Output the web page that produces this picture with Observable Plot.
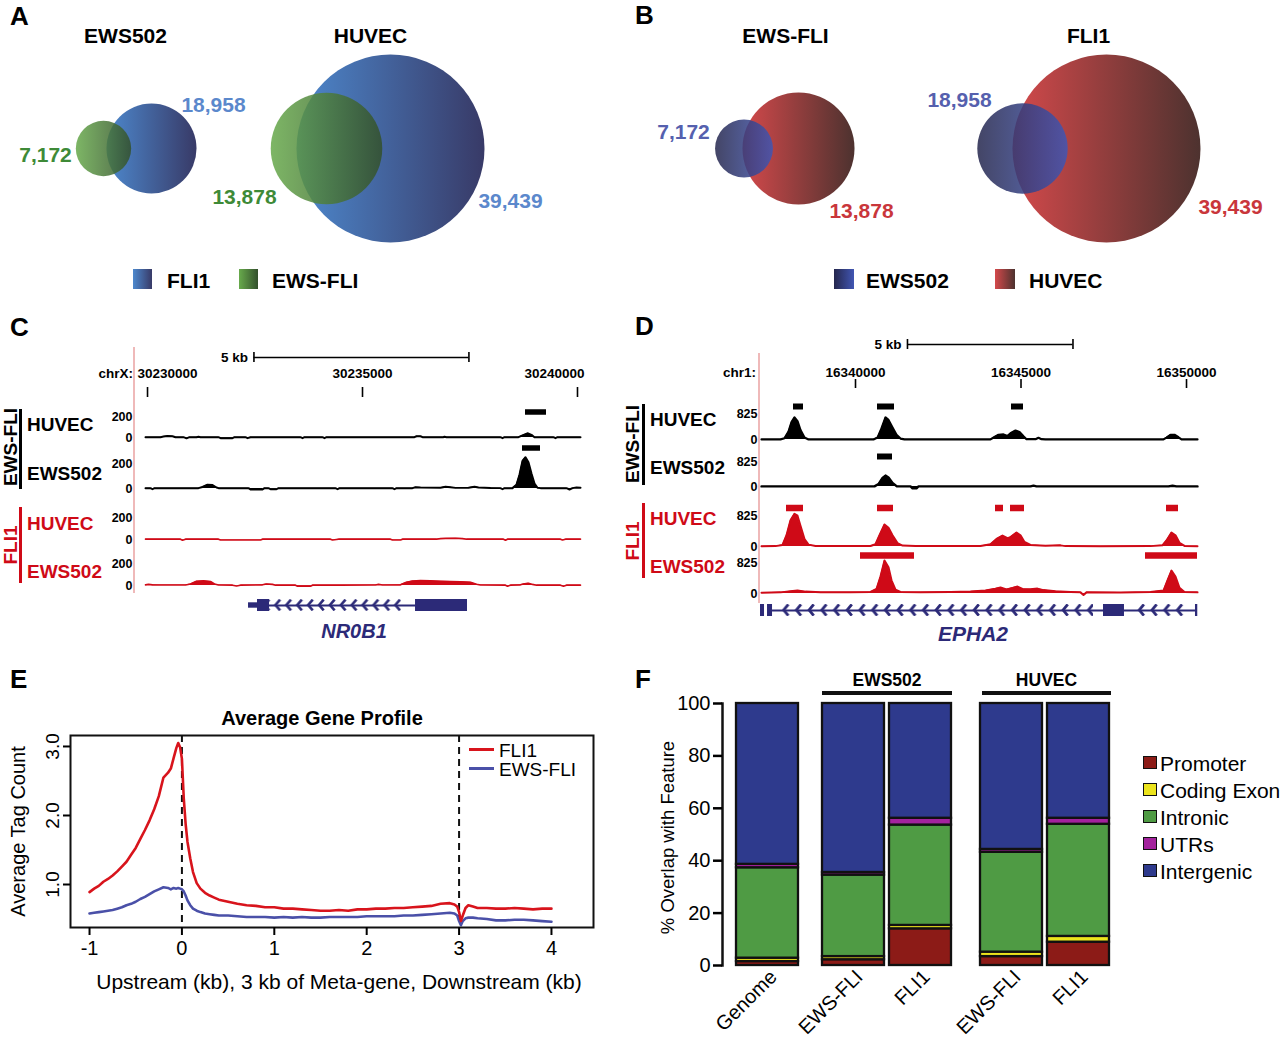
<!DOCTYPE html>
<html>
<head>
<meta charset="utf-8">
<script src="https://cdn.jsdelivr.net/npm/d3@7"></script>
<script src="https://cdn.jsdelivr.net/npm/@observablehq/plot@0.6"></script>
<style>
  html, body { margin: 0; padding: 0; background: #fff; }
  #fig { position: relative; width: 1280px; height: 1037px; overflow: hidden; background: #fff;
         font-family: "Liberation Sans", Arial, Helvetica, sans-serif; color: #000; }
  #fig .t { position: absolute; white-space: nowrap; line-height: 1; }
  #fig .box { position: absolute; box-sizing: border-box; }
</style>
</head>
<body>
<div id="fig">
  <svg width="0" height="0" style="position:absolute">
    <defs>
      <linearGradient id="gFli1" x1="0" x2="1" y1="0" y2="0">
        <stop offset="0" stop-color="#4d88cd"/><stop offset="1" stop-color="#383a67"/>
      </linearGradient>
      <linearGradient id="gEwsFli" x1="0" x2="1" y1="0" y2="0">
        <stop offset="0" stop-color="#68aa4c"/><stop offset="1" stop-color="#33502c"/>
      </linearGradient>
      <linearGradient id="gEws502" x1="0" x2="1" y1="0" y2="0">
        <stop offset="0" stop-color="#25274d"/><stop offset="1" stop-color="#4156b3"/>
      </linearGradient>
      <linearGradient id="gHuvec" x1="0" x2="1" y1="0" y2="0">
        <stop offset="0" stop-color="#d4494b"/><stop offset="1" stop-color="#4d322f"/>
      </linearGradient>
      <pattern id="chevNR0B1" patternUnits="userSpaceOnUse" width="10.9" height="30">
        <path d="M7.6,9.6 L3,15 L7.6,20.4" fill="none" stroke="#2c2a78" stroke-width="2.6"/>
      </pattern>
      <pattern id="chevEPHA2" patternUnits="userSpaceOnUse" width="12.7" height="30">
        <path d="M8.6,9.4 L4,15 L8.6,20.6" fill="none" stroke="#2c2a78" stroke-width="2.8"/>
      </pattern>
    </defs>
  </svg>
</div>
<script>
// ===================== data =====================

// A/B: number of ChIP-seq peaks per factor and cell line
const cellLines = ["EWS502", "HUVEC"];
const fli1PeakCounts = [18958, 39439];
const ewsFliPeakCounts = [7172, 13878];

// C: NR0B1 locus, chrX (signal as [position, tag density])
const nr0b1Window = [30229953, 30240070];
const nr0b1Ticks = [30230000, 30235000, 30240000];
const nr0b1ScaleBar = [30232475, 30237475];
const nr0b1EwsFliHuvec = [[30229953,3],[30230302,3],[30230372,10],[30230465,15],[30230581,12],[30230651,3],[30230837,3],[30230907,-8],[30230977,3],[30231140,3],[30231186,8],[30231233,3],[30231651,3],[30231698,-6],[30231977,-6],[30232023,3],[30232279,3],[30232326,-6],[30232395,3],[30233558,3],[30233605,-6],[30233651,3],[30234070,3],[30234116,-6],[30234163,3],[30236209,3],[30236256,12],[30236349,12],[30236395,3],[30236884,3],[30236907,8],[30236954,3],[30238209,3],[30238256,-6],[30238302,3],[30238628,3],[30238721,20],[30238837,40],[30238930,25],[30239000,3],[30239442,3],[30239488,-6],[30239535,3],[30240070,3]];
const nr0b1EwsFliEws502 = [[30229953,3],[30230070,3],[30230116,-6],[30230163,3],[30231186,3],[30231279,12],[30231395,30],[30231512,28],[30231605,8],[30231651,3],[30232349,3],[30232395,-8],[30232674,-8],[30232721,3],[30232814,3],[30232860,-6],[30233000,-6],[30233047,3],[30234372,3],[30234419,-6],[30234465,3],[30235698,3],[30235744,-6],[30235791,3],[30236163,3],[30236233,10],[30236349,8],[30236814,6],[30236930,14],[30237047,10],[30237163,5],[30237465,6],[30237605,14],[30237698,8],[30237977,4],[30238209,3],[30238256,-6],[30238302,3],[30238488,3],[30238581,30],[30238651,110],[30238721,220],[30238791,250],[30238860,210],[30238930,120],[30239000,40],[30239070,6],[30239140,3],[30239744,3],[30239814,-8],[30239884,3],[30239977,8],[30240070,6]];
const nr0b1Fli1Huvec = [[30229953,3],[30230767,3],[30230814,-6],[30230884,3],[30231651,3],[30231698,-5],[30232628,-5],[30232674,3],[30234256,3],[30234302,-5],[30234442,3],[30235651,3],[30235698,-5],[30235884,-5],[30235930,3],[30236721,3],[30236814,8],[30236930,10],[30237163,12],[30237326,8],[30237419,3],[30238279,3],[30238326,-6],[30238372,3],[30239605,3],[30239651,-5],[30239721,3],[30240070,3]];
const nr0b1Fli1Ews502 = [[30229953,6],[30230023,10],[30230116,6],[30230302,4],[30230884,4],[30231000,14],[30231140,38],[30231302,42],[30231465,36],[30231558,14],[30231651,4],[30231977,3],[30232070,-4],[30232163,3],[30232674,6],[30232767,14],[30232907,10],[30232977,3],[30233442,3],[30233488,-6],[30233791,-6],[30233837,3],[30234488,3],[30235302,4],[30235372,10],[30235465,4],[30235884,6],[30236023,30],[30236163,40],[30236349,44],[30236581,42],[30236814,38],[30237047,36],[30237279,34],[30237512,30],[30237651,12],[30237744,4],[30238326,3],[30238372,-6],[30238442,3],[30238674,6],[30238767,16],[30238860,20],[30238953,10],[30239047,3],[30239605,3],[30239674,-6],[30239744,3],[30240070,3]];
const nr0b1PeaksEwsFliHuvec = [[30238791, 30239279]];
const nr0b1PeaksEwsFliEws502 = [[30238721, 30239140]];
const nr0b1Exons = [[30232558, 30232837], [30236233, 30237442]];
const nr0b1Utrs = [[30232349, 30232558]];
const nr0b1Introns = [[30232837, 30236233]];

// D: EPHA2 locus, chr1
const epha2Window = [16337160, 16350332];
const epha2Ticks = [16340000, 16345000, 16350000];
const epha2ScaleBar = [16341570, 16346570];
const epha2EwsFliHuvec = [[16337160,3],[16337734,3],[16337855,40],[16337976,250],[16338067,550],[16338157,700],[16338248,580],[16338338,300],[16338459,60],[16338580,3],[16340544,3],[16340665,60],[16340785,350],[16340906,700],[16340997,620],[16341118,380],[16341239,150],[16341359,30],[16341480,3],[16344078,3],[16344199,80],[16344320,150],[16344471,160],[16344592,110],[16344683,200],[16344834,285],[16344954,240],[16345075,100],[16345166,10],[16345438,10],[16345528,55],[16345619,10],[16345740,3],[16349305,3],[16349395,60],[16349516,150],[16349637,150],[16349758,70],[16349849,3],[16350332,3]];
const epha2EwsFliEws502 = [[16337160,3],[16340574,3],[16340695,80],[16340816,280],[16340906,360],[16340997,300],[16341118,120],[16341239,10],[16341359,3],[16341662,3],[16341722,-60],[16341843,-60],[16341903,3],[16345287,3],[16345377,30],[16345468,3],[16349456,3],[16349577,25],[16349697,3],[16350332,3]];
const epha2Fli1Huvec = [[16337160,8],[16337583,10],[16337795,40],[16337916,300],[16338036,700],[16338157,870],[16338248,820],[16338338,550],[16338459,200],[16338580,50],[16338792,15],[16339245,10],[16339698,12],[16340453,12],[16340604,60],[16340725,300],[16340876,585],[16340997,500],[16341118,300],[16341269,90],[16341420,25],[16341813,12],[16342870,10],[16343776,15],[16344078,60],[16344260,200],[16344441,290],[16344592,220],[16344683,250],[16344864,370],[16344985,300],[16345105,120],[16345287,40],[16345740,20],[16346193,30],[16346344,10],[16347401,8],[16348912,10],[16349274,30],[16349395,160],[16349546,370],[16349667,300],[16349788,100],[16349939,15],[16350332,8]];
const epha2Fli1Ews502 = [[16337160,20],[16337734,30],[16338036,60],[16338248,80],[16338489,50],[16338943,35],[16339849,30],[16340453,40],[16340634,120],[16340755,450],[16340876,880],[16340997,700],[16341088,350],[16341208,100],[16341359,40],[16341964,30],[16342870,40],[16343474,50],[16343927,80],[16344229,130],[16344380,160],[16344562,110],[16344743,150],[16344894,185],[16345045,120],[16345287,110],[16345498,130],[16345679,90],[16346042,60],[16346495,40],[16346797,30],[16346888,-40],[16346979,30],[16348006,25],[16348912,40],[16349305,80],[16349426,350],[16349546,610],[16349667,450],[16349788,150],[16349939,40],[16350332,30]];
const epha2PeaksEwsFliHuvec = [[16338127,16338429],[16340665,16341178],[16344713,16345075]];
const epha2PeaksEwsFliEws502 = [[16340665,16341118]];
const epha2PeaksFli1Huvec = [[16337916,16338429],[16340665,16341148],[16344229,16344471],[16344683,16345105],[16349395,16349758]];
const epha2PeaksFli1Ews502 = [[16340151,16341782],[16348761,16350332]];
const epha2Exons = [[16337130,16337251],[16337342,16337493],[16347492,16348126],[16350271,16350340]];
const epha2Introns = [[16337493,16347492],[16348126,16350271]];

// E: average tag count across the meta-gene
const profileKb = [-1,-0.95,-0.9,-0.85,-0.8,-0.75,-0.7,-0.65,-0.6,-0.55,-0.5,-0.45,-0.4,-0.35,-0.3,-0.25,-0.2,-0.15,-0.12,-0.09,-0.06,-0.04,-0.02,0,0.02,0.04,0.06,0.09,0.12,0.16,0.2,0.25,0.3,0.35,0.4,0.5,0.6,0.7,0.8,0.9,1.0,1.1,1.2,1.3,1.4,1.5,1.6,1.7,1.8,1.9,2.0,2.1,2.2,2.3,2.4,2.5,2.6,2.7,2.8,2.9,2.95,2.98,3.0,3.02,3.04,3.07,3.1,3.15,3.2,3.3,3.4,3.5,3.6,3.7,3.8,3.9,4.0];
const fli1Profile = [0.89,0.94,0.98,1.04,1.08,1.13,1.19,1.26,1.33,1.43,1.53,1.66,1.79,1.93,2.09,2.28,2.55,2.62,2.68,2.83,2.98,3.05,2.99,2.82,2.25,1.88,1.62,1.38,1.18,1.02,0.94,0.88,0.84,0.81,0.78,0.75,0.72,0.70,0.69,0.67,0.67,0.65,0.65,0.64,0.63,0.62,0.62,0.63,0.62,0.64,0.64,0.65,0.65,0.66,0.66,0.67,0.68,0.69,0.72,0.73,0.71,0.68,0.60,0.47,0.55,0.66,0.70,0.68,0.66,0.66,0.65,0.65,0.66,0.65,0.64,0.65,0.65];
const ewsFliProfile = [0.58,0.59,0.60,0.61,0.62,0.63,0.65,0.67,0.70,0.72,0.75,0.79,0.82,0.86,0.90,0.93,0.96,0.95,0.93,0.95,0.94,0.95,0.94,0.93,0.90,0.84,0.77,0.70,0.65,0.62,0.60,0.58,0.57,0.56,0.55,0.55,0.54,0.53,0.53,0.53,0.52,0.53,0.52,0.53,0.52,0.52,0.53,0.53,0.53,0.53,0.54,0.54,0.54,0.54,0.55,0.55,0.56,0.57,0.58,0.59,0.58,0.55,0.47,0.41,0.47,0.51,0.52,0.52,0.51,0.50,0.48,0.48,0.49,0.49,0.48,0.47,0.46];
const metaGeneBounds = [0, 3];

// F: % of peaks overlapping each genomic feature
const featureNames = ["Promoter", "Coding Exon", "Intronic", "UTRs", "Intergenic"];
const featureColors = ["#8c1b17", "#ece41d", "#4f9b44", "#a3229d", "#2e3a8d"];
const barGroups = ["Genome", "EWS502", "EWS502", "HUVEC", "HUVEC"];
const barNames = ["Genome", "EWS-FLI", "FLI1", "EWS-FLI", "FLI1"];
const pctGenome = [1.5, 1.3, 34.5, 1.3, 61.4];
const pctEws502EwsFli = [2.2, 1.2, 31.1, 1.0, 64.5];
const pctEws502Fli1 = [14.0, 1.3, 38.3, 2.6, 43.8];
const pctHuvecEwsFli = [3.4, 1.7, 38.1, 1.1, 55.7];
const pctHuvecFli1 = [8.9, 2.2, 42.8, 2.3, 43.8];

// ===================== drawing helpers =====================
const FONT = '"Liberation Sans", Arial, Helvetica, sans-serif';
const RED = "#cf0a17";
const NAVY = "#2c2a78";
const fig = document.getElementById("fig");
const svgStyle = {background: "transparent", overflow: "visible", fontFamily: FONT, maxWidth: "none"};

function mount(svg, left, top) {
  svg.style.position = "absolute";
  svg.style.left = left + "px";
  svg.style.top = top + "px";
  fig.appendChild(svg);
  return svg;
}
function txt(s, x, y, {size = 20, weight = "bold", color = "#000", align = "start", rotate = 0, italic = false} = {}) {
  const d = document.createElement("div");
  d.className = "t";
  d.textContent = s;
  const tx = align === "middle" ? "-50%" : align === "end" ? "-100%" : "0%";
  Object.assign(d.style, {
    left: x + "px", top: y + "px", fontSize: size + "px", fontWeight: weight, color,
    fontStyle: italic ? "italic" : "normal",
    transform: `translate(${tx}, -50%)` + (rotate ? ` rotate(${rotate}deg)` : "")
  });
  fig.appendChild(d);
  return d;
}
function box(x, y, w, h, css) {
  const d = document.createElement("div");
  d.className = "box";
  Object.assign(d.style, {left: x + "px", top: y + "px", width: w + "px", height: h + "px"}, css);
  fig.appendChild(d);
  return d;
}
const fmt = d3.format(",");

// ===================== A & B: Venn diagrams =====================
function venn(o) {
  return Plot.plot({
    width: 640, height: 300, margin: 0,
    x: {domain: [0, 640], range: [0, 640], axis: null},
    y: {domain: [0, 300], range: [0, 300], axis: null},
    r: {type: o.rType, domain: [0, o.big.count], range: [0, o.bigR]},
    style: svgStyle,
    marks: [
      Plot.dot([o.big], {x: () => o.bigCx, y: () => o.cy, r: "count", fill: o.big.fill}),
      Plot.dot([o.small], {x: () => o.smallCx, y: () => o.cy, r: "count", fill: o.small.fill, fillOpacity: 0.86}),
      Plot.text([o.title], {x: () => o.titleX, y: () => 36, fontSize: 21, fontWeight: "bold"}),
      Plot.text([o.big], {x: () => o.big.lx, y: () => o.big.ly, text: d => fmt(d.count), fill: o.big.color, fontSize: 21, fontWeight: "bold"}),
      Plot.text([o.small], {x: () => o.small.lx, y: () => o.small.ly, text: d => fmt(d.count), fill: o.small.color, fontSize: 21, fontWeight: "bold"})
    ]
  });
}
const BLUE_A = "#5b88cc", GREEN_A = "#3e8a37", BLUE_B = "#5560ae", RED_B = "#c9363b";

// A: FLI1 vs EWS-FLI within each cell line (area-scaled)
mount(venn({rType: "sqrt", bigR: 45, bigCx: 151, smallCx: 103, cy: 148, title: cellLines[0], titleX: 125,
  big: {count: fli1PeakCounts[0], fill: "url(#gFli1)", color: BLUE_A, lx: 213, ly: 105},
  small: {count: ewsFliPeakCounts[0], fill: "url(#gEwsFli)", color: GREEN_A, lx: 45, ly: 155}}), 0, 0);
mount(venn({rType: "sqrt", bigR: 94, bigCx: 390, smallCx: 326, cy: 148, title: cellLines[1], titleX: 370,
  big: {count: fli1PeakCounts[1], fill: "url(#gFli1)", color: BLUE_A, lx: 510, ly: 201},
  small: {count: ewsFliPeakCounts[1], fill: "url(#gEwsFli)", color: GREEN_A, lx: 244, ly: 197}}), 0, 0);

// B: EWS502 vs HUVEC for each factor (radius-scaled)
mount(venn({rType: "linear", bigR: 56, bigCx: 158, smallCx: 103.5, cy: 148, title: "EWS-FLI", titleX: 145,
  big: {count: ewsFliPeakCounts[1], fill: "url(#gHuvec)", color: RED_B, lx: 221, ly: 211},
  small: {count: ewsFliPeakCounts[0], fill: "url(#gEws502)", color: BLUE_B, lx: 43, ly: 132}}), 640, 0);
mount(venn({rType: "linear", bigR: 94, bigCx: 466, smallCx: 382, cy: 148, title: "FLI1", titleX: 448,
  big: {count: fli1PeakCounts[1], fill: "url(#gHuvec)", color: RED_B, lx: 590, ly: 207},
  small: {count: fli1PeakCounts[0], fill: "url(#gEws502)", color: BLUE_B, lx: 319, ly: 100}}), 640, 0);

// legends
box(133, 269, 19, 20, {background: "linear-gradient(to right, #4d88cd, #383a67)"});
txt("FLI1", 167, 280, {size: 21});
box(239, 269, 19, 20, {background: "linear-gradient(to right, #68aa4c, #33502c)"});
txt("EWS-FLI", 272, 280, {size: 21});
box(834, 269, 20, 20, {background: "linear-gradient(to right, #25274d, #4156b3)"});
txt("EWS502", 866, 280, {size: 21});
box(995, 269, 20, 20, {background: "linear-gradient(to right, #d4494b, #4d322f)"});
txt("HUVEC", 1029, 280, {size: 21});

// ===================== C & D: browser tracks =====================
function header({window, margins, ticks, anchors, shifts, tickY, labelY, scaleBar, barY}) {
  return Plot.plot({
    width: 640, height: 70, marginLeft: margins[0], marginRight: margins[1], marginTop: 0, marginBottom: 0,
    x: {domain: window, axis: null},
    y: {domain: [0, 70], range: [0, 70], axis: null},
    style: svgStyle,
    marks: [
      Plot.ruleX(ticks, {x: d => d, y1: () => tickY[0], y2: () => tickY[1], strokeWidth: 1.6}),
      ...ticks.map((t, i) => Plot.text([t], {x: d => d, y: () => labelY, text: d => String(d),
        textAnchor: anchors[i], dx: shifts[i], fontSize: 13.5, fontWeight: "bold"})),
      Plot.ruleY([scaleBar], {x1: d => d[0], x2: d => d[1], y: () => barY, strokeWidth: 1.6}),
      Plot.ruleX(scaleBar, {x: d => d, y1: () => barY - 5, y2: () => barY + 5, strokeWidth: 1.6}),
      Plot.text(["5 kb"], {x: () => scaleBar[0], y: () => barY, dx: -6, textAnchor: "end", fontSize: 13.5, fontWeight: "bold"})
    ]
  });
}

function track({window, margins, series, color, yMax, h, peaks = [], lift = 0, peakWidth = 6, pad, lineWidth = 1.8}) {
  const base = 50;
  return Plot.plot({
    width: 640, height: 60, marginLeft: margins[0], marginRight: margins[1], marginTop: 0, marginBottom: 0,
    x: {domain: window, axis: null},
    y: {domain: [0, yMax], range: [base, base - h], axis: null},
    style: svgStyle,
    marks: [
      Plot.areaY(series, {x: d => d[0], y1: () => 0, y2: d => d[1], fill: color}),
      Plot.lineY(series, {x: d => d[0], y: d => d[1], stroke: color, strokeWidth: lineWidth}),
      Plot.ruleY(peaks, {x1: d => d[0], x2: d => d[1], y: () => yMax * lift / h, stroke: color, strokeWidth: peakWidth}),
      Plot.axisY({ticks: [0, yMax], tickSize: 0, tickPadding: pad, tickFormat: d => String(d),
        fontSize: 12.5, fontWeight: "bold", label: null})
    ]
  });
}

function gene({window, margins, exons, utrs = [], introns, pattern, inset}) {
  return Plot.plot({
    width: 640, height: 30, marginLeft: margins[0], marginRight: margins[1], marginTop: 0, marginBottom: 0,
    x: {domain: window, axis: null},
    y: {domain: [-1, 1], range: [21, 9], axis: null},
    style: svgStyle,
    marks: [
      Plot.ruleY(introns, {x1: d => d[0], x2: d => d[1], y: () => 0, stroke: NAVY, strokeWidth: 2}),
      Plot.rect(introns, {x1: d => d[0], x2: d => d[1], y1: () => -1, y2: () => 1, fill: `url(#${pattern})`,
        insetLeft: inset[0], insetRight: inset[1]}),
      Plot.rect(utrs, {x1: d => d[0], x2: d => d[1], y1: () => -0.45, y2: () => 0.45, fill: NAVY}),
      Plot.rect(exons, {x1: d => d[0], x2: d => d[1], y1: () => -1, y2: () => 1, fill: NAVY})
    ]
  });
}

// ---- C ----
const cM = [145, 60];
box(133, 347, 2, 246, {background: "#efb9b9"});
mount(header({window: nr0b1Window, margins: cM, ticks: nr0b1Ticks, anchors: ["start", "middle", "end"], shifts: [-10, 0, 7],
  tickY: [57, 67], labelY: 43, scaleBar: nr0b1ScaleBar, barY: 27}), 0, 330);
txt("chrX:", 133, 374, {size: 13.5, align: "end"});
mount(track({window: nr0b1Window, margins: cM, series: nr0b1EwsFliHuvec, color: "#000", yMax: 200, h: 21,
  peaks: nr0b1PeaksEwsFliHuvec, lift: 25.5, peakWidth: 5.5, pad: 13, lineWidth: 2}), 0, 437 - 50);
mount(track({window: nr0b1Window, margins: cM, series: nr0b1EwsFliEws502, color: "#000", yMax: 200, h: 25,
  peaks: nr0b1PeaksEwsFliEws502, lift: 40.5, peakWidth: 5.5, pad: 13, lineWidth: 2}), 0, 488 - 50);
mount(track({window: nr0b1Window, margins: cM, series: nr0b1Fli1Huvec, color: RED, yMax: 200, h: 22, pad: 13, lineWidth: 1.6}), 0, 539 - 50);
mount(track({window: nr0b1Window, margins: cM, series: nr0b1Fli1Ews502, color: RED, yMax: 200, h: 22, pad: 13, lineWidth: 1.6}), 0, 585 - 50);
mount(gene({window: nr0b1Window, margins: cM, exons: nr0b1Exons, utrs: nr0b1Utrs, introns: nr0b1Introns,
  pattern: "chevNR0B1", inset: [0, 14]}), 0, 590);
txt("NR0B1", 354, 631, {size: 20, color: NAVY, align: "middle", italic: true});
box(19, 409, 2.5, 80, {background: "#000"});
box(19, 507, 2.5, 76, {background: RED});
txt("EWS-FLI", 9.5, 447, {size: 19, align: "middle", rotate: -90});
txt("FLI1", 9.5, 545, {size: 19, align: "middle", rotate: -90, color: RED});
txt("HUVEC", 27, 424, {size: 19});
txt("EWS502", 27, 473, {size: 19});
txt("HUVEC", 27, 523, {size: 19, color: RED});
txt("EWS502", 27, 571, {size: 19, color: RED});

// ---- D ----
const dM = [121, 83];
box(757.5, 353, 2, 250, {background: "#efb9b9"});
mount(header({window: epha2Window, margins: dM, ticks: epha2Ticks, anchors: ["middle", "middle", "middle"], shifts: [0, 0, 0],
  tickY: [59, 68], labelY: 52, scaleBar: epha2ScaleBar, barY: 24}), 640, 320);
txt("chr1:", 756, 373, {size: 13.5, align: "end"});
mount(track({window: epha2Window, margins: dM, series: epha2EwsFliHuvec, color: "#000", yMax: 825, h: 26,
  peaks: epha2PeaksEwsFliHuvec, lift: 33, peakWidth: 6, pad: 4, lineWidth: 2.2}), 640, 439 - 50);
mount(track({window: epha2Window, margins: dM, series: epha2EwsFliEws502, color: "#000", yMax: 825, h: 25,
  peaks: epha2PeaksEwsFliEws502, lift: 30, peakWidth: 6, pad: 4, lineWidth: 2.4}), 640, 486 - 50);
mount(track({window: epha2Window, margins: dM, series: epha2Fli1Huvec, color: RED, yMax: 825, h: 31,
  peaks: epha2PeaksFli1Huvec, lift: 38.5, peakWidth: 6.5, pad: 4, lineWidth: 2}), 640, 546 - 50);
mount(track({window: epha2Window, margins: dM, series: epha2Fli1Ews502, color: RED, yMax: 825, h: 31,
  peaks: epha2PeaksFli1Ews502, lift: 38, peakWidth: 6.5, pad: 4, lineWidth: 2}), 640, 593 - 50);
mount(gene({window: epha2Window, margins: dM, exons: epha2Exons, introns: epha2Introns,
  pattern: "chevEPHA2", inset: [10, 10]}), 640, 595);
txt("EPHA2", 973, 633, {size: 21, color: NAVY, align: "middle", italic: true});
box(642, 404, 2.5, 81, {background: "#000"});
box(642, 503, 2.5, 75, {background: RED});
txt("EWS-FLI", 632, 444, {size: 19, align: "middle", rotate: -90});
txt("FLI1", 632, 541, {size: 19, align: "middle", rotate: -90, color: RED});
txt("HUVEC", 650, 419, {size: 19});
txt("EWS502", 650, 467, {size: 19});
txt("HUVEC", 650, 518, {size: 19, color: RED});
txt("EWS502", 650, 566, {size: 19, color: RED});

// ===================== E: average gene profile =====================
const profile = profileKb.map((kb, i) => ({kb, fli1: fli1Profile[i], ewsFli: ewsFliProfile[i]}));
const E_RED = "#d8141c", E_BLUE = "#4a50a8";
mount(Plot.plot({
  width: 640, height: 300, marginLeft: 70, marginRight: 47, marginTop: 35, marginBottom: 73,
  x: {domain: [-1.206, 4.455], axis: null},
  y: {domain: [0.377, 3.159], axis: null},
  style: svgStyle,
  marks: [
    Plot.ruleX(metaGeneBounds, {stroke: "#111", strokeWidth: 2, strokeDasharray: "7,5"}),
    Plot.lineY(profile, {x: "kb", y: "ewsFli", stroke: E_BLUE, strokeWidth: 2.6}),
    Plot.lineY(profile, {x: "kb", y: "fli1", stroke: E_RED, strokeWidth: 2.6}),
    Plot.frame({stroke: "#111", strokeWidth: 2}),
    Plot.axisX({ticks: [-1, 0, 1, 2, 3, 4], tickSize: 8, tickPadding: 5, tickFormat: d => String(d),
      fontSize: 20, strokeWidth: 2, label: null}),
    Plot.axisY({ticks: [1, 2, 3], tickSize: 7, tickPadding: 5, tickRotate: -90, tickFormat: d => d.toFixed(1),
      fontSize: 19, strokeWidth: 2, label: null}),
    Plot.text(["Average Gene Profile"], {frameAnchor: "top", lineAnchor: "middle", dy: -17, dx: -10, fontSize: 20, fontWeight: "bold"}),
    Plot.text(["Upstream (kb), 3 kb of Meta-gene, Downstream (kb)"], {frameAnchor: "bottom", lineAnchor: "middle", dy: 55, dx: 7, fontSize: 21}),
    Plot.text(["Average Tag Count"], {frameAnchor: "left", textAnchor: "middle", dx: -52, rotate: -90, fontSize: 20})
  ]
}), 0, 700);
box(469, 747.5, 25, 3, {background: E_RED});
txt("FLI1", 499, 750, {size: 19, weight: "normal"});
box(469, 766.5, 25, 3, {background: E_BLUE});
txt("EWS-FLI", 499, 769, {size: 19, weight: "normal"});

// ===================== F: genomic feature overlap =====================
const pctRows = [pctGenome, pctEws502EwsFli, pctEws502Fli1, pctHuvecEwsFli, pctHuvecFli1];
const barKeys = barGroups.map((g, i) => g === barNames[i] ? g : `${g} ${barNames[i]}`);
const overlap = barKeys.flatMap((key, i) => featureNames.map((feature, j) =>
  ({key, group: barGroups[i], name: barNames[i], feature, pct: pctRows[i][j]})));
const bars = barKeys.map((key, i) => ({key, group: barGroups[i], name: barNames[i]}));
// extra horizontal space between the genome bar and the two cell-line groups
const groupShift = {Genome: 0, EWS502: 19, HUVEC: 43};
const groupsF = ["Genome", "EWS502", "HUVEC"];

mount(Plot.plot({
  width: 640, height: 377, marginLeft: 82, marginRight: 150, marginTop: 43, marginBottom: 72,
  x: {type: "band", domain: barKeys, range: [96, 428.5], paddingInner: 0.074, paddingOuter: 0, align: 0, axis: null},
  y: {domain: [0, 100], axis: null},
  color: {domain: featureNames, range: featureColors},
  style: svgStyle,
  marks: [
    ...groupsF.map(g => Plot.barY(overlap.filter(d => d.group === g),
      {x: "key", y: "pct", fill: "feature", stroke: "#111", strokeWidth: 2.3, dx: groupShift[g]})),
    ...groupsF.map(g => Plot.text(bars.filter(d => d.group === g),
      {x: "key", y: () => 0, text: "name", rotate: -45, textAnchor: "end", dx: groupShift[g] + 6, dy: 8, fontSize: 20})),
    Plot.frame({anchor: "left", stroke: "#111", strokeWidth: 2.5}),
    Plot.axisY({ticks: [0, 20, 40, 60, 80, 100], tickSize: 9, tickPadding: 3, tickFormat: d => String(d),
      fontSize: 20, strokeWidth: 2.5, label: null}),
    Plot.text(["% Overlap with Feature"], {frameAnchor: "left", textAnchor: "middle", dx: -54, dy: 3, rotate: -90, fontSize: 18.5})
  ]
}), 640, 660);

// group headers
txt("EWS502", 887, 681, {size: 17.5, align: "middle"});
box(822, 691, 130, 3.5, {background: "#111"});
txt("HUVEC", 1046.5, 681, {size: 17.5, align: "middle"});
box(982, 691, 129, 3.5, {background: "#111"});

// legend
featureNames.forEach((f, i) => {
  const cy = 762 + i * 27;
  box(1143, cy - 6.5, 14, 13, {background: featureColors[i], border: "1.6px solid #111"});
  txt(f, 1160, cy + 1, {size: 21, weight: "normal"});
});

// panel letters
[["A", 10, 16], ["B", 635, 15], ["C", 10, 327], ["D", 635, 326], ["E", 10, 679], ["F", 635, 679]]
  .forEach(([s, x, y]) => txt(s, x, y, {size: 26}));
</script>
</body>
</html>
